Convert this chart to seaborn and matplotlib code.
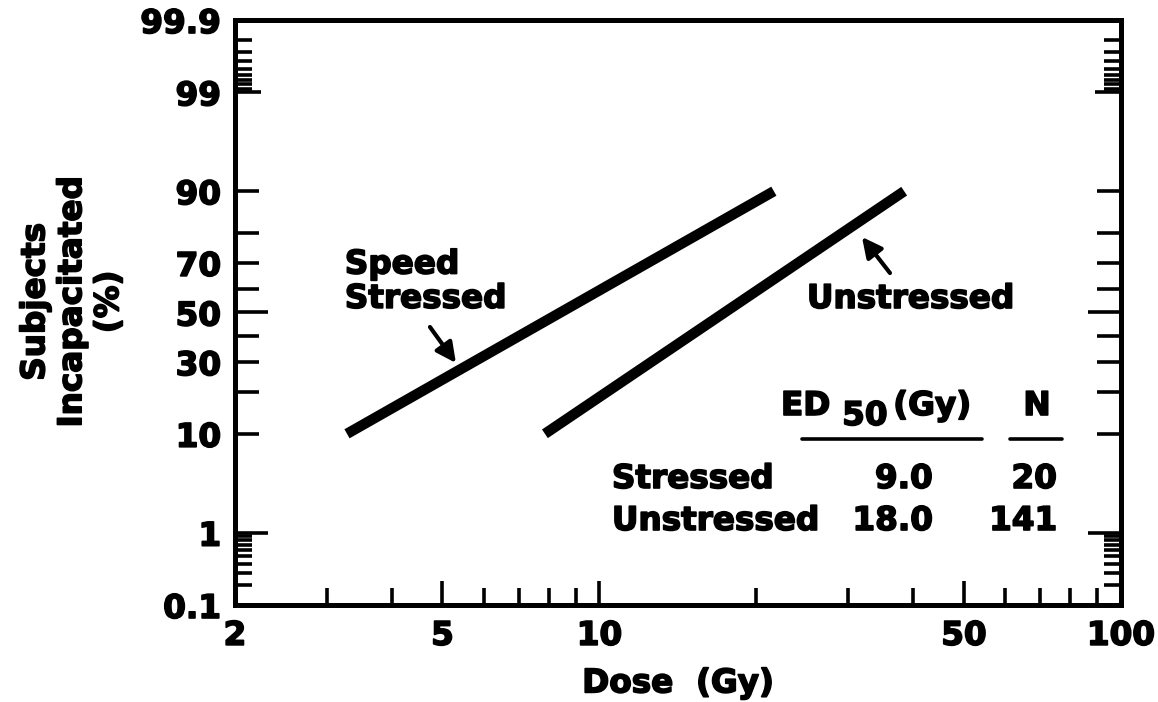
"""Incapacitation vs dose, probit y-axis / log dose x-axis."""

from statistics import NormalDist

import matplotlib.patheffects as pe
import matplotlib.pyplot as plt
import numpy as np
import pandas as pd
import seaborn as sns
from matplotlib.text import Text

# ---------------------------------------------------------------------------
# DATA
# ---------------------------------------------------------------------------
groups = ["Stressed", "Stressed", "Unstressed", "Unstressed"]
dose_gy = [3.28, 21.6, 7.86, 38.4]
pct_incap = [10, 90, 10, 90]

table_groups = ["Stressed", "Unstressed"]
table_ed50 = ["9.0", "18.0"]
table_n = ["20", "141"]

x_major = [2, 5, 10, 50, 100]
x_minor = [3, 4, 6, 7, 8, 9, 20, 30, 40, 60, 70, 80, 90]
y_major = [0.1, 1, 10, 30, 50, 70, 90, 99, 99.9]
y_minor = [0.2, 0.3, 0.4, 0.5, 0.6, 0.7, 0.8, 0.9,
           20, 40, 60, 80,
           99.1, 99.2, 99.3, 99.4, 99.5, 99.6, 99.7, 99.8]

FONT = "DejaVu Sans"
FS = 23.5

_nd = NormalDist()
_ppf = np.vectorize(_nd.inv_cdf, otypes=[float])
_cdf = np.vectorize(_nd.cdf, otypes=[float])


def _probit(p):
    p = np.clip(np.asarray(p, dtype=float) / 100.0, 1e-7, 1 - 1e-7)
    return _ppf(p)


def _inv_probit(z):
    return _cdf(np.asarray(z, dtype=float)) * 100.0


def _fmt(v):
    return f"{v:g}"


def main() -> None:
    sns.set_style("ticks")
    plt.rcParams.update({
        "font.family": [FONT],
        "font.weight": "bold",
        "text.color": "black",
        "axes.labelcolor": "black",
        "xtick.color": "black",
        "ytick.color": "black",
        "axes.edgecolor": "black",
    })

    df = pd.DataFrame({"group": groups, "dose": dose_gy, "pct": pct_incap})

    fig = plt.figure(figsize=(11.58, 7.02), dpi=100)
    ax = fig.add_axes([0.2029, 0.1382, 0.7651, 0.8333])

    ax.set_xscale("log")
    ax.set_yscale("function", functions=(_probit, _inv_probit))

    sns.lineplot(data=df, x="dose", y="pct", hue="group",
                 palette={"Stressed": "black", "Unstressed": "black"},
                 lw=7.5, legend=False, ax=ax, sort=False)
    for ln in ax.lines:
        ln.set_solid_capstyle("butt")

    ax.set_xlim(2, 100)
    ax.set_ylim(0.1, 99.9)

    # ticks
    ax.set_xticks(x_major, [_fmt(v) for v in x_major])
    ax.set_xticks(x_minor, minor=True)
    ax.set_xticklabels([], minor=True)
    ax.set_yticks(y_major, [_fmt(v) for v in y_major])
    ax.set_yticks(y_minor, minor=True)
    ax.set_yticklabels([], minor=True)

    ax.tick_params(axis="both", which="both", direction="in", width=2.6,
                   labelsize=FS, color="black", labelcolor="black")
    ax.tick_params(axis="y", which="both", left=True, right=True, pad=10)
    ax.tick_params(axis="x", which="both", bottom=True, top=False, pad=10)
    ax.tick_params(axis="both", which="both", length=16)
    for lab in ax.get_xticklabels() + ax.get_yticklabels():
        lab.set_fontweight("bold")

    # individual tick lengths
    long_y = {1: 24, 50: 24, 99: 19}
    for val, t in zip(y_major, ax.yaxis.get_major_ticks()):
        L = long_y.get(val, 17)
        t.tick1line.set_markersize(L)
        t.tick2line.set_markersize(L)
    for val, t in zip(y_minor, ax.yaxis.get_minor_ticks()):
        L = 17 if 10 < val < 99 else 12
        t.tick1line.set_markersize(L)
        t.tick2line.set_markersize(L)
    for t in ax.xaxis.get_major_ticks():
        t.tick1line.set_markersize(17)
    for t in ax.xaxis.get_minor_ticks():
        t.tick1line.set_markersize(12)

    for sp in ax.spines.values():
        sp.set_linewidth(3.6)
        sp.set_color("black")

    # axis labels
    ax.set_xlabel("Dose  (Gy)", fontsize=FS, fontweight="bold")
    ax.xaxis.set_label_coords(0.5, -0.105)
    ax.set_ylabel("Subjects\nIncapacitated\n(%)", fontsize=FS,
                  fontweight="bold", linespacing=1.15)
    ax.yaxis.set_label_coords(-0.124, 0.518)

    # line labels and arrows
    tkw = dict(transform=ax.transAxes, fontsize=FS, fontweight="bold")
    ax.text(0.124, 0.611, "Speed\nStressed", va="top", ha="left",
            linespacing=1.05, **tkw)
    ax.annotate("", xy=(0.2494, 0.4137), xytext=(0.2201, 0.4752),
                xycoords="axes fraction", textcoords="axes fraction",
                arrowprops=dict(arrowstyle="-|>", color="black", lw=3,
                                mutation_scale=30, shrinkA=0, shrinkB=0))
    ax.text(0.6456, 0.5077, "Unstressed", va="baseline", ha="left", **tkw)
    ax.annotate("", xy=(0.7077, 0.6291), xytext=(0.7393, 0.5675),
                xycoords="axes fraction", textcoords="axes fraction",
                arrowprops=dict(arrowstyle="-|>", color="black", lw=3,
                                mutation_scale=30, shrinkA=0, shrinkB=0))

    # ED50 table
    ax.text(0.6720, 0.3248, "ED", va="baseline", ha="right", **tkw)
    ax.text(0.7110, 0.3077, "50", va="baseline", ha="center", **tkw)
    ax.text(0.7430, 0.3248, "(Gy)", va="baseline", ha="left", **tkw)
    ax.text(0.9053, 0.3248, "N", va="baseline", ha="center", **tkw)
    ax.plot([0.640, 0.8431], [0.2838, 0.2838], color="black", lw=2.6,
            transform=ax.transAxes, clip_on=False)
    ax.plot([0.8747, 0.9334], [0.2838, 0.2838], color="black", lw=2.6,
            transform=ax.transAxes, clip_on=False)
    row_y = [0.2, 0.1282]
    for name, ed, n, y in zip(table_groups, table_ed50, table_n, row_y):
        ax.text(0.4255, y, name, va="baseline", ha="left", **tkw)
        ax.text(0.7878, y, ed, va="baseline", ha="right", **tkw)
        ax.text(0.9278, y, n, va="baseline", ha="right", **tkw)

    # heavier strokes, like the original lettering
    for t in fig.findobj(Text):
        t.set_color("black")
        t.set_path_effects([pe.withStroke(linewidth=1.2, foreground="black")])

    fig.savefig("out.png", dpi=100, facecolor="white")
    plt.close(fig)


if __name__ == "__main__":
    main()
